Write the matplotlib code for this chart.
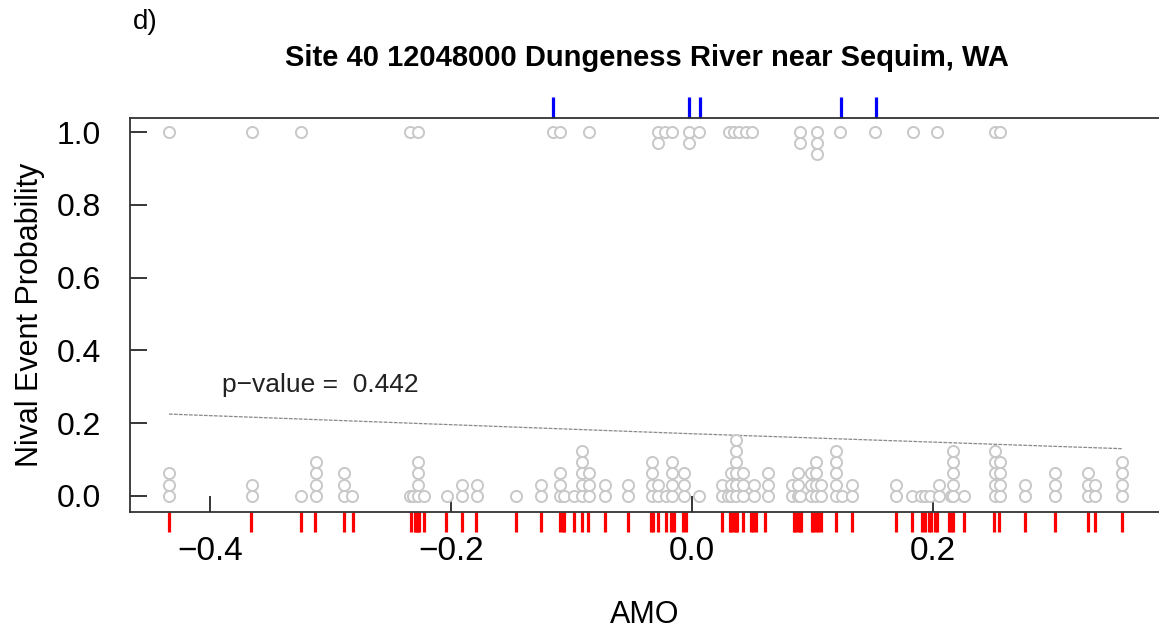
import numpy as np
import matplotlib.pyplot as plt
import matplotlib.transforms as mtransforms

plt.rcParams['font.family'] = ['Liberation Sans', 'DejaVu Sans']

# dot stacks at probability 0 (x value, number of stacked dots)
zero_x = [-0.434, -0.365, -0.324, -0.312, -0.289, -0.282, -0.234, -0.231, -0.227, -0.222,
          -0.203, -0.191, -0.178, -0.146, -0.125, -0.109, -0.106, -0.098, -0.091, -0.085,
          -0.072, -0.053, -0.033, -0.028, -0.021, -0.016, -0.006, 0.006, 0.025, 0.030,
          0.033, 0.037, 0.043, 0.052, 0.063, 0.083, 0.088, 0.090, 0.099, 0.103,
          0.107, 0.120, 0.125, 0.133, 0.170, 0.183, 0.190, 0.194, 0.198, 0.205,
          0.215, 0.217, 0.226, 0.252, 0.256, 0.277, 0.302, 0.329, 0.335, 0.357]
zero_n = [3, 2, 1, 4, 3, 1, 1, 1, 4, 1,
          1, 2, 2, 1, 2, 3, 1, 1, 5, 3,
          2, 2, 4, 2, 1, 4, 3, 1, 2, 1,
          3, 6, 3, 2, 3, 2, 3, 1, 3, 4,
          2, 5, 1, 2, 2, 1, 1, 1, 1, 2,
          1, 5, 1, 5, 4, 2, 3, 3, 2, 4]

# dot stacks at probability 1
one_x = [-0.434, -0.365, -0.324, -0.234, -0.227, -0.115, -0.109, -0.085, -0.028, -0.022,
         -0.016, -0.002, 0.006, 0.031, 0.035, 0.039, 0.045, 0.050, 0.090, 0.104,
         0.123, 0.152, 0.184, 0.204, 0.252, 0.256]
one_n = [1, 1, 1, 1, 1, 1, 1, 1, 2, 1,
         1, 2, 1, 1, 1, 1, 1, 1, 2, 3,
         1, 1, 1, 1, 1, 1]

# rug marks
rug_zero = [-0.434, -0.366, -0.324, -0.313, -0.289, -0.281, -0.233, -0.230, -0.229, -0.227,
            -0.226, -0.222, -0.204, -0.191, -0.179, -0.146, -0.125, -0.109, -0.107, -0.106,
            -0.098, -0.091, -0.086, -0.072, -0.053, -0.034, -0.032, -0.028, -0.021, -0.017,
            -0.015, -0.007, -0.005, 0.025, 0.032, 0.033, 0.035, 0.037, 0.038, 0.043,
            0.049, 0.051, 0.053, 0.061, 0.085, 0.086, 0.088, 0.090, 0.091, 0.100,
            0.101, 0.103, 0.105, 0.107, 0.120, 0.133, 0.170, 0.183, 0.191, 0.194,
            0.197, 0.199, 0.202, 0.204, 0.214, 0.215, 0.217, 0.226, 0.251, 0.255,
            0.277, 0.302, 0.329, 0.335, 0.357]
rug_one = [-0.115, -0.002, 0.007, 0.124, 0.153]

# fitted logistic curve
fit_x = [-0.434, 0.0, 0.357]
fit_p = [0.225, 0.171, 0.130]

xticks = [-0.4, -0.2, 0.0, 0.2]
yticks = [0.0, 0.2, 0.4, 0.6, 0.8, 1.0]

fig = plt.figure(figsize=(11.59, 6.31), dpi=100)
ax = fig.add_axes([0.1122, 0.1886, 0.893, 0.6244])

# stacked dots
bx, by = [], []
for x, n in zip(zero_x, zero_n):
    for k in range(n):
        bx.append(x)
        by.append(k * 0.031)
tx, ty = [], []
for x, n in zip(one_x, one_n):
    for k in range(n):
        tx.append(x)
        ty.append(1 - k * 0.030)
ax.scatter(bx, by, s=64, marker='o', facecolors='white', edgecolors='#c8c8c8',
           linewidths=1.4, zorder=3)
ax.scatter(tx, ty, s=64, marker='o', facecolors='white', edgecolors='#c8c8c8',
           linewidths=1.4, zorder=3)

# fitted line
ax.plot(fit_x, fit_p, color='#888888', linewidth=0.9, linestyle=(0, (3, 1)), zorder=2)

# rugs outside the box
trans = mtransforms.blended_transform_factory(ax.transData, ax.transAxes)
ax.vlines(rug_zero, -0.052, 0, colors='#ff0000', linewidth=2.3, transform=trans, clip_on=False)
ax.vlines(rug_one, 1, 1.053, colors='#0000ff', linewidth=2.3, transform=trans, clip_on=False)

ax.text(-0.390, 0.305, 'p\u2212value =  0.442', fontsize=19, ha='left', va='center', color='#222222')

ax.set_xlim(-0.4663, 0.3930)
ax.set_ylim(-0.044, 1.0385)
ax.set_xticks(xticks)
ax.set_xticklabels(['\u22120.4', '\u22120.2', '0.0', '0.2'])
ax.set_yticks(yticks)
ax.set_yticklabels(['0.0', '0.2', '0.4', '0.6', '0.8', '1.0'])
ax.tick_params(axis='x', direction='in', length=11.5, width=1.1, pad=17, labelsize=24)
ax.tick_params(axis='y', direction='in', length=12, width=1.1, pad=21, labelsize=23)

for side in ['left', 'bottom', 'top']:
    ax.spines[side].set_color('#333333')
    ax.spines[side].set_linewidth(1.3)
ax.spines['right'].set_visible(False)

fig.text(646.5 / 1159, 1 - 58 / 631, 'Site 40 12048000 Dungeness River near Sequim, WA',
         fontsize=21, fontweight='bold', ha='center', va='center')
fig.text(133 / 1159, 1 - 22 / 631, 'd)', fontsize=20, ha='left', va='center')
fig.text(645 / 1159, 1 - 615 / 631, 'AMO', fontsize=22, ha='center', va='center')
fig.text(30 / 1159, 1 - 315 / 631, 'Nival Event Probability', fontsize=22, rotation=90,
         ha='center', va='center')

plt.savefig('out.png', dpi=100)
